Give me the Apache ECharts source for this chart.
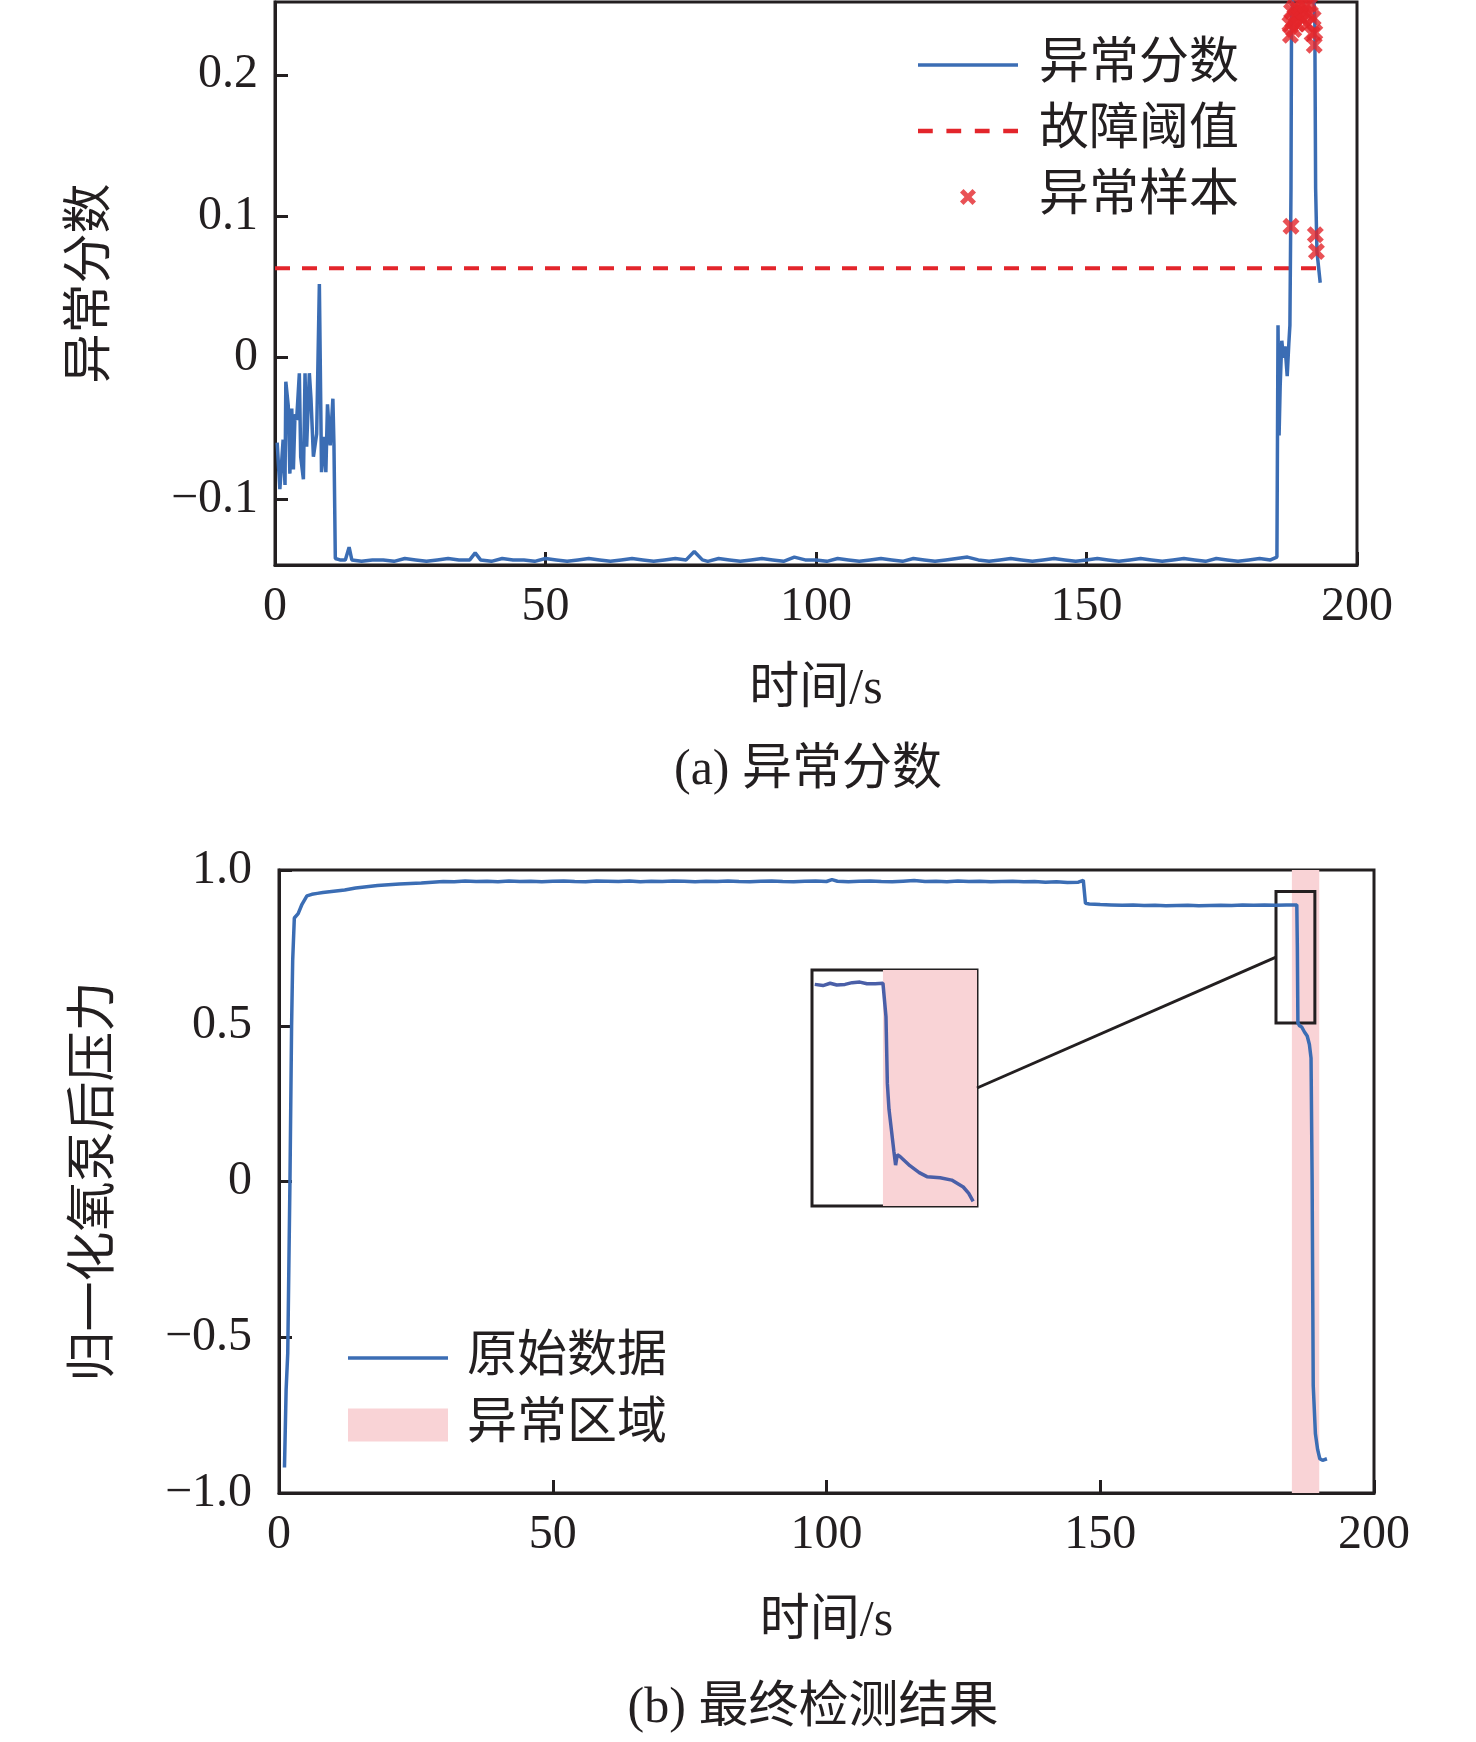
<!DOCTYPE html>
<html>
<head>
<meta charset="utf-8">
<script src="https://cdn.jsdelivr.net/npm/echarts@6/dist/echarts.min.js"></script>
<style>
  html, body { margin: 0; padding: 0; background: #fff; }
  #main { width: 1476px; height: 1742px; }
</style>
</head>
<body>
<div id="main"></div>
<script>
// 异常分数 (a)
const scoreTime = [
  0.4, 0.9, 1.5, 1.85, 2.0, 2.45, 2.75, 3.1, 3.4, 3.7, 4.0, 4.5, 4.75, 5.25, 5.55, 5.85,
  6.35, 6.65, 7.1, 7.7, 8.2, 8.6, 8.9, 9.4, 9.7, 10.2, 10.7, 10.9, 11.15, 12, 13, 13.7, 14.2,
  16, 18, 20, 22, 24, 26, 28, 30, 32, 34, 36, 37, 38, 40, 42, 44, 46, 48, 50, 52, 54, 56,
  58, 60, 62, 64, 66, 68, 70, 72, 74, 76, 77.5, 79, 80, 82, 84, 86, 88, 90, 92, 94, 96, 98,
  100, 102, 104, 106, 108, 110, 112, 114, 116, 118, 120, 122, 124, 126, 128, 130, 132, 134,
  136, 138, 140, 142, 144, 146, 148, 150, 152, 154, 156, 158, 160, 162, 164, 166, 168, 170,
  172, 174, 176, 178, 180, 182, 184, 185.2,
  185.4, 185.6, 185.8, 186.1, 186.4, 186.7, 187.1, 187.4, 187.6, 187.8, 187.9, 188.2, 188.6,
  189.0, 189.5, 190.0, 190.5, 191.0, 191.5, 192.0, 192.2, 192.35, 192.6, 193.2
];
const scoreValue = [
  -0.060, -0.093, -0.058, -0.090, -0.017, -0.034, -0.082, -0.036, -0.079, -0.040, -0.044, -0.011,
  -0.070, -0.086, -0.011, -0.063, -0.011, -0.029, -0.070, -0.054, 0.052, -0.081, -0.056, -0.081,
  -0.033, -0.062, -0.029, -0.062, -0.142, -0.143, -0.143, -0.134, -0.143,
  -0.144, -0.143, -0.143, -0.144, -0.142, -0.143, -0.144, -0.143, -0.142, -0.143, -0.143, -0.138,
  -0.143, -0.144, -0.142, -0.143, -0.143, -0.144, -0.142, -0.143, -0.144, -0.143, -0.142, -0.143,
  -0.144, -0.143, -0.142, -0.143, -0.144, -0.143, -0.142, -0.143, -0.137, -0.143, -0.144, -0.142,
  -0.143, -0.144, -0.143, -0.142, -0.143, -0.144, -0.141, -0.143, -0.143, -0.144, -0.142, -0.143,
  -0.144, -0.143, -0.142, -0.143, -0.144, -0.142, -0.143, -0.144, -0.143, -0.142, -0.141, -0.143,
  -0.144, -0.143, -0.142, -0.143, -0.144, -0.143, -0.142, -0.143, -0.144, -0.143, -0.142, -0.143,
  -0.144, -0.143, -0.142, -0.143, -0.144, -0.143, -0.142, -0.143, -0.144, -0.142, -0.143, -0.144,
  -0.143, -0.142, -0.143, -0.141,
  0.023, -0.055, -0.020, 0.012, 0.000, 0.008, -0.013, 0.010, 0.023, 0.120, 0.240, 0.255, 0.262,
  0.258, 0.265, 0.260, 0.263, 0.258, 0.260, 0.255, 0.240, 0.120, 0.075, 0.053
];

// 故障阈值
const threshold = 0.0633;
const thresholdEnd = 193.2;

// 异常样本
const sampleTime = [
  187.8, 187.6, 187.7, 187.9, 188.1, 188.3, 188.5, 188.7, 188.9, 189.1, 189.3, 189.6, 189.9,
  190.2, 190.5, 190.8, 191.1, 191.4, 191.7, 191.9, 192.1, 192.2, 192.3, 192.5
];
const sampleValue = [
  0.093, 0.236, 0.228, 0.245, 0.238, 0.232, 0.248, 0.241, 0.236, 0.246, 0.242, 0.250, 0.239,
  0.244, 0.249, 0.236, 0.243, 0.250, 0.229, 0.240, 0.221, 0.230, 0.087, 0.075
];

// 原始数据 (b)
const pressureTime = [
  1.0, 1.3, 1.6, 2.0, 2.3, 2.5, 2.8, 3.5, 4.2, 5.1, 6, 7, 8, 10, 12, 14, 16, 18, 20, 22, 24,
  26, 28, 30, 32, 34, 36, 38, 40, 42, 44, 46, 48, 50, 52, 54, 56, 58, 60, 62, 64, 66, 68, 70,
  72, 74, 76, 78, 80, 82, 84, 86, 88, 90, 92, 94, 96, 98, 100, 101, 102, 104, 106, 108, 110,
  112, 114, 116, 118, 120, 122, 124, 126, 128, 130, 132, 134, 136, 138, 140, 142, 144, 146,
  146.9, 147.3, 148, 150, 152, 154, 156, 158, 160, 162, 164, 166, 168, 170, 172, 174, 176,
  178, 180, 182, 184, 185.9, 186.0, 186.1, 186.4, 186.8, 187.3, 187.8, 188.2, 188.5, 188.7,
  188.9, 189.3, 189.7, 190.1, 190.6, 191.4
];
const pressureValue = [
  -0.918, -0.669, -0.550, 0.000, 0.500, 0.710, 0.846, 0.860, 0.890, 0.917, 0.922, 0.925, 0.928,
  0.932, 0.936, 0.942, 0.946, 0.950, 0.953, 0.955, 0.957, 0.958, 0.961, 0.963, 0.962, 0.965,
  0.963, 0.964, 0.962, 0.965, 0.963, 0.964, 0.962, 0.964, 0.965, 0.963, 0.962, 0.965, 0.964,
  0.963, 0.965, 0.962, 0.964, 0.963, 0.965, 0.964, 0.962, 0.964, 0.963, 0.965, 0.963, 0.962,
  0.964, 0.965, 0.963, 0.962, 0.964, 0.965, 0.963, 0.969, 0.964, 0.962, 0.964, 0.965, 0.963,
  0.962, 0.964, 0.966, 0.963, 0.964, 0.962, 0.965, 0.963, 0.964, 0.962, 0.963, 0.964, 0.962,
  0.963, 0.961, 0.962, 0.960, 0.961,
  0.967, 0.893, 0.891, 0.889, 0.888, 0.887, 0.888, 0.886, 0.887, 0.885, 0.886, 0.887, 0.885,
  0.886, 0.887, 0.886, 0.888, 0.887, 0.888, 0.887, 0.888, 0.888, 0.750, 0.509, 0.500, 0.496,
  0.480, 0.467, 0.440, 0.396, 0.000, -0.655, -0.810, -0.860, -0.890, -0.895, -0.890
];

// 异常区域
const anomalyStart = 185.0;
const anomalyEnd = 190.0;

// 局部放大框 (主图坐标)
const zoomBoxTime = [182.1, 189.2];
const zoomBoxValue = [0.931, 0.509];

// 局部放大图
const insetRangeTime = [184.6, 187.6];
const insetRangeValue = [0.50, 0.91];
const insetAnomalyStart = 185.89;
const insetTime = [
  184.65, 184.8, 184.93, 185.05, 185.2, 185.33, 185.47, 185.6, 185.75, 185.89, 185.945, 185.97,
  186.0, 186.05, 186.09, 186.12, 186.15, 186.2, 186.38, 186.55, 186.69, 186.93, 187.14, 187.35,
  187.45, 187.53
];
const insetValue = [
  0.885, 0.883, 0.887, 0.884, 0.885, 0.888, 0.889, 0.886, 0.886, 0.887, 0.829, 0.713, 0.668,
  0.627, 0.594, 0.571, 0.589, 0.586, 0.570, 0.558, 0.551, 0.549, 0.545, 0.533, 0.522, 0.508
];

const scoreTicks = [-0.1, 0, 0.1, 0.2];

const zip = (a, b) => a.map((v, i) => [v, b[i]]);

const FONT = "'Liberation Serif', 'Noto Sans CJK SC', serif";
const INK = '#231f20';
const BLUE = '#3b6db4';
const RED = '#e3252b';
const PINK = '#f9d3d6';
const CROSS = 'path://M0,2.2 L2.2,0 L5,2.8 L7.8,0 L10,2.2 L7.2,5 L10,7.8 L7.8,10 L5,7.2 L2.2,10 L0,7.8 L2.8,5 Z';
// 图例图标: 实线 / 虚线
const ICON_SOLID = 'path://M0,0 L100,0 L100,3.5 L0,3.5 Z';
const ICON_DASH = 'path://M0,0h13v4h-13z M25,0h13v4h-13z M50,0h13v4h-13z M75,0h13v4h-13z';

const fmt = function (v) {
  if (Math.abs(v) < 1e-9) return '0';
  const s = Math.abs(v).toFixed(1);
  return v < 0 ? '\u2212' + s : s;
};

var myChart = echarts.init(document.getElementById('main'));

function xAxisOf(gridIndex, nameGap) {
  return {
    type: 'value', gridIndex: gridIndex, min: 0, max: 200, interval: 50,
    name: '时间/s', nameLocation: 'middle', nameGap: nameGap,
    nameTextStyle: { fontSize: 50, color: INK, fontFamily: FONT },
    axisLine: { show: true, onZero: false, lineStyle: { color: INK, width: 3 } },
    axisTick: { show: true, inside: true, length: 13, lineStyle: { color: INK, width: 3 } },
    axisLabel: { fontSize: 48, color: INK, fontFamily: FONT, margin: 18 },
    splitLine: { show: false }
  };
}

var option = {
  animation: false,
  backgroundColor: '#fff',
  textStyle: { fontFamily: FONT },
  grid: [
    { left: 275, top: 2, width: 1082, height: 563, show: true, borderColor: INK, borderWidth: 3 },
    { left: 279, top: 870, width: 1095, height: 623, show: true, borderColor: INK, borderWidth: 3 },
    { left: 812, top: 970, width: 165, height: 236, show: true, borderColor: INK, borderWidth: 3 }
  ],
  xAxis: [
    xAxisOf(0, 100),
    xAxisOf(1, 104),
    { type: 'value', gridIndex: 2, min: insetRangeTime[0], max: insetRangeTime[1], show: false }
  ],
  yAxis: [
    {
      type: 'value', gridIndex: 0, min: -0.1466, max: 0.2515,
      name: '异常分数', nameLocation: 'middle', nameGap: 158,
      nameTextStyle: { fontSize: 50, color: INK, fontFamily: FONT },
      axisLine: { show: true, onZero: false, lineStyle: { color: INK, width: 3 } },
      axisTick: { show: true, inside: true, length: 13, customValues: scoreTicks,
        lineStyle: { color: INK, width: 3 } },
      axisLabel: { fontSize: 48, color: INK, fontFamily: FONT, margin: 17,
        customValues: scoreTicks, formatter: fmt },
      splitLine: { show: false }
    },
    {
      type: 'value', gridIndex: 1, min: -1, max: 1, interval: 0.5,
      name: '归一化氧泵后压力', nameLocation: 'middle', nameGap: 158,
      nameTextStyle: { fontSize: 50, color: INK, fontFamily: FONT },
      axisLine: { show: true, onZero: false, lineStyle: { color: INK, width: 3 } },
      axisTick: { show: true, inside: true, length: 13, lineStyle: { color: INK, width: 3 } },
      axisLabel: { fontSize: 48, color: INK, fontFamily: FONT, margin: 27, formatter: fmt },
      splitLine: { show: false }
    },
    { type: 'value', gridIndex: 2, min: insetRangeValue[0], max: insetRangeValue[1], show: false }
  ],
  legend: [
    {
      left: 913, top: 35, orient: 'vertical', itemWidth: 100, itemHeight: 16, itemGap: 16,
      textStyle: { fontSize: 50, color: INK, fontFamily: FONT, padding: [0, 0, 0, 16] },
      data: [
        { name: '异常分数', icon: ICON_SOLID },
        { name: '故障阈值', icon: ICON_DASH },
        { name: '异常样本' }
      ]
    },
    {
      left: 343, top: 1328, orient: 'vertical', itemWidth: 100, itemHeight: 33, itemGap: 17,
      textStyle: { fontSize: 50, color: INK, fontFamily: FONT, padding: [0, 0, 0, 14] },
      data: [{ name: '原始数据', icon: ICON_SOLID }, { name: '异常区域', icon: 'rect' }]
    }
  ],
  series: [
    {
      name: '异常分数', type: 'line', xAxisIndex: 0, yAxisIndex: 0, symbol: 'none',
      data: zip(scoreTime, scoreValue), color: BLUE,
      lineStyle: { color: BLUE, width: 3.5 }, z: 3
    },
    {
      name: '故障阈值', type: 'line', xAxisIndex: 0, yAxisIndex: 0, symbol: 'none',
      data: [[0, threshold], [thresholdEnd, threshold]], color: RED,
      lineStyle: { color: RED, width: 4, type: [15, 12] }, z: 2
    },
    {
      name: '异常样本', type: 'scatter', xAxisIndex: 0, yAxisIndex: 0,
      symbol: CROSS, symbolSize: 17, data: zip(sampleTime, sampleValue),
      itemStyle: { color: RED }, z: 4
    },
    {
      name: '异常区域', type: 'line', xAxisIndex: 1, yAxisIndex: 1, data: [], color: PINK,
      itemStyle: { color: PINK }, z: 1,
      markArea: {
        silent: true, itemStyle: { color: PINK, opacity: 1 },
        data: [[{ xAxis: anomalyStart }, { xAxis: anomalyEnd }]]
      }
    },
    {
      name: '原始数据', type: 'line', xAxisIndex: 1, yAxisIndex: 1, symbol: 'none',
      data: zip(pressureTime, pressureValue), color: BLUE,
      lineStyle: { color: BLUE, width: 3.5 }, z: 3
    },
    {
      name: '放大框', type: 'line', xAxisIndex: 1, yAxisIndex: 1, data: [], z: 4,
      markArea: {
        silent: true,
        itemStyle: { color: 'rgba(0,0,0,0)', borderColor: INK, borderWidth: 3 },
        data: [[{ coord: [zoomBoxTime[0], zoomBoxValue[0]] }, { coord: [zoomBoxTime[1], zoomBoxValue[1]] }]]
      }
    },
    {
      name: '局部底色', type: 'line', xAxisIndex: 2, yAxisIndex: 2, data: [], z: 1,
      markArea: {
        silent: true, itemStyle: { color: PINK, opacity: 1 },
        data: [[{ xAxis: insetAnomalyStart }, { xAxis: insetRangeTime[1] }]]
      }
    },
    {
      name: '局部', type: 'line', xAxisIndex: 2, yAxisIndex: 2, symbol: 'none',
      data: zip(insetTime, insetValue), color: BLUE, z: 6,
      lineStyle: { color: '#4a5fa8', width: 3.5 }
    }
  ]
};

myChart.setOption(option);

// 连接线与子图标题
var p1 = myChart.convertToPixel({ xAxisIndex: 2, yAxisIndex: 2 },
  [insetRangeTime[1], (insetRangeValue[0] + insetRangeValue[1]) / 2]);
var p2 = myChart.convertToPixel({ xAxisIndex: 1, yAxisIndex: 1 },
  [zoomBoxTime[0], (zoomBoxValue[0] + zoomBoxValue[1]) / 2]);

myChart.setOption({
  graphic: [
    { type: 'line', z: 10, shape: { x1: p1[0], y1: p1[1], x2: p2[0], y2: p2[1] },
      style: { stroke: INK, lineWidth: 3 } },
    { type: 'text', x: 808, y: 771,
      style: { text: '(a) 异常分数', font: "50px " + FONT, fill: INK, textAlign: 'center', textVerticalAlign: 'middle' } },
    { type: 'text', x: 813, y: 1709,
      style: { text: '(b) 最终检测结果', font: "50px " + FONT, fill: INK, textAlign: 'center', textVerticalAlign: 'middle' } }
  ]
});
</script>
</body>
</html>
